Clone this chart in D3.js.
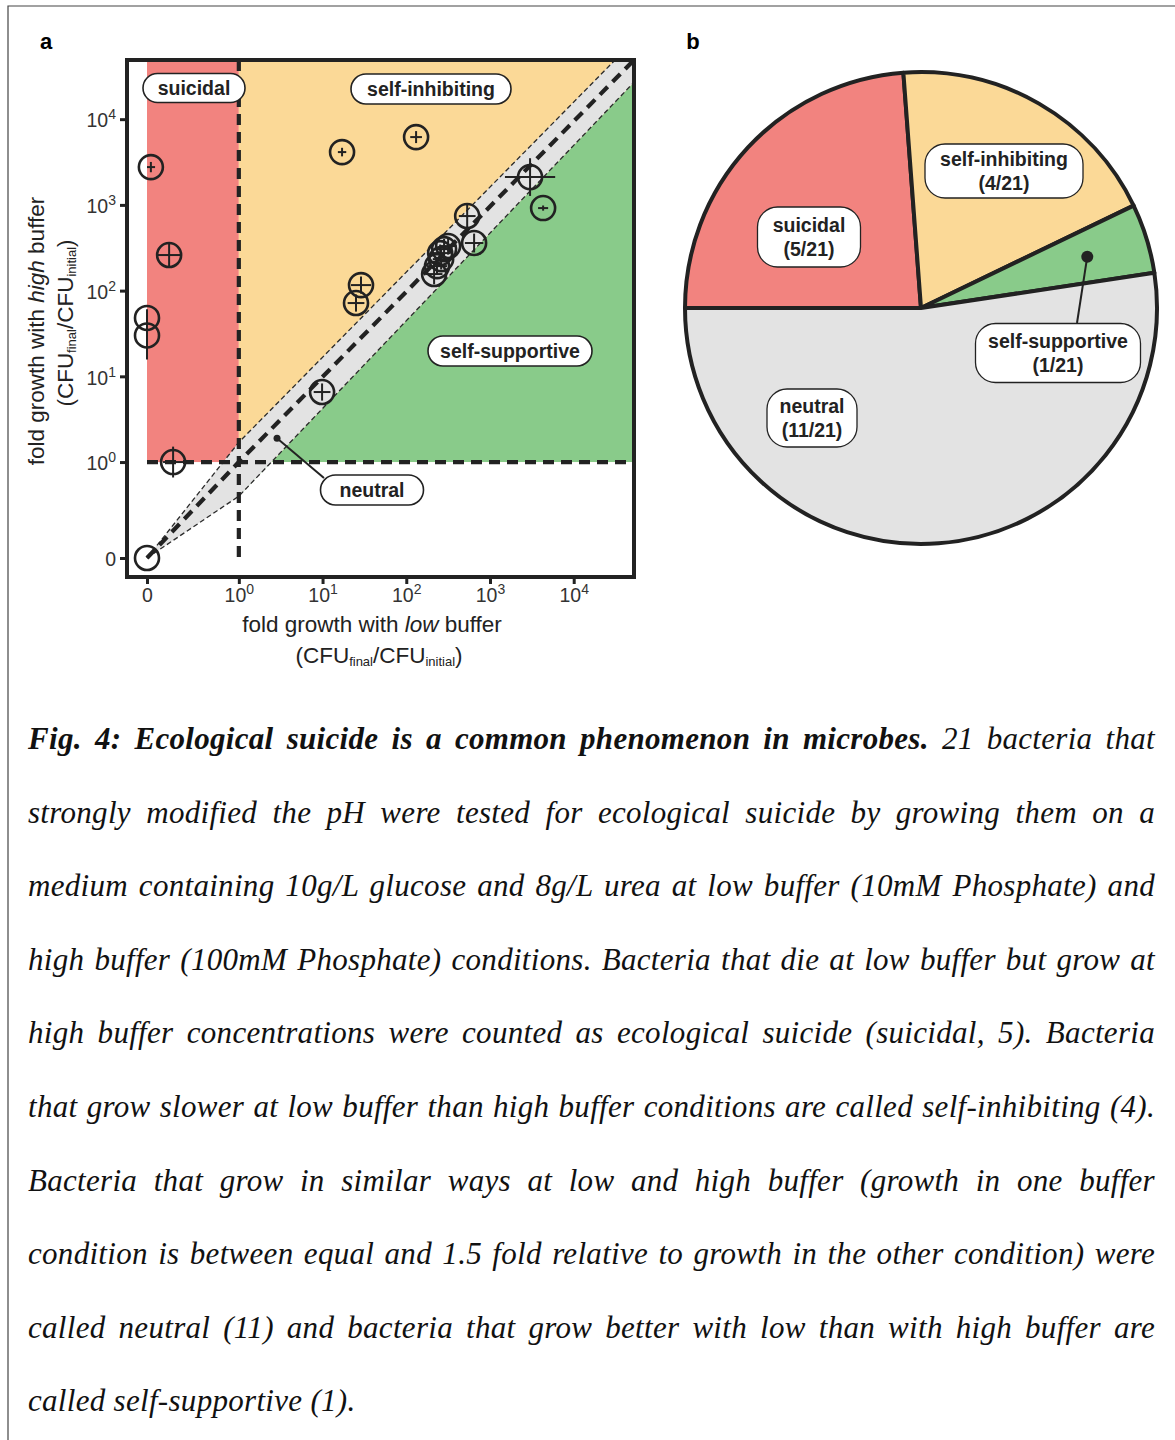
<!DOCTYPE html>
<html><head><meta charset="utf-8">
<script src="https://cdn.jsdelivr.net/npm/d3@7"></script>
<style>body{margin:0;background:#fff} svg{display:block}</style>
</head><body>
<svg id="c" width="1175" height="1440"></svg>
<script>
// ---------------- DATA ----------------
const categories = ["suicidal", "self-inhibiting", "self-supportive", "neutral"];
const counts = [5, 4, 1, 11];
const total = 21;
const catColors = ["#F2837F", "#FBD997", "#89CB8A", "#E3E3E3"];

// scatter: fold growth with low buffer (x) and high buffer (y)
const pointCategory = ["suicidal","suicidal","suicidal","suicidal","suicidal",
  "self-inhibiting","self-inhibiting","self-inhibiting","self-inhibiting",
  "self-supportive",
  "neutral","neutral","neutral","neutral","neutral","neutral","neutral","neutral","neutral","neutral","neutral"];
const lowBuffer  = [0.089, 0.147, 0, 0, 0.164, 17.1, 131, 28.8, 25.1, 4310, 0, 9.87, 3010, 534, 646, 316, 283, 254, 261, 233, 215];
const highBuffer = [2760, 260, 48, 30, 1.0, 4130, 6180, 116, 71.6, 918, 0, 6.56, 2110, 741, 359, 331, 305, 274, 233, 193, 156];
// error bars, in decades (log10 units)
const lowErr  = [0.05, 0.14, 0, 0, 0.12, 0.05, 0.07, 0.12, 0.10, 0.06, 0, 0.10, 0.30, 0.10, 0.11, 0.10, 0.10, 0.12, 0.10, 0.12, 0.10];
const highErr = [0.06, 0.14, 0.10, 0.28, 0.18, 0.05, 0.07, 0.10, 0.10, 0.03, 0, 0.10, 0.22, 0.15, 0.11, 0.10, 0.12, 0.10, 0.12, 0.10, 0.12];

const xTicks = [0, 1, 10, 100, 1000, 10000];
const yTicks = [0, 1, 10, 100, 1000, 10000];
const xDomain = [0.08, 52500];
const yDomain = [0.076, 49000];
// neutral band boundaries (data space)
const neutralUpper = [[0, 0], [1, 1.7], [31200, 49000]];
const neutralLower = [[0, 0], [1, 0.4], [52500, 27000]];
const neutralMarker = [2.86, 1.9];

const captionBold = "Fig. 4: Ecological suicide is a common phenomenon in microbes.";
const captionLines = [
  " 21 bacteria that",
  "strongly modified the pH were tested for ecological suicide by growing them on a",
  "medium containing 10g/L glucose and 8g/L urea at low buffer (10mM Phosphate) and",
  "high buffer (100mM Phosphate) conditions. Bacteria that die at low buffer but grow at",
  "high buffer concentrations were counted as ecological suicide (suicidal, 5). Bacteria",
  "that grow slower at low buffer than high buffer conditions are called self-inhibiting (4).",
  "Bacteria that grow in similar ways at low and high buffer (growth in one buffer",
  "condition is between equal and 1.5 fold relative to growth in the other condition) were",
  "called neutral (11) and bacteria that grow better with low than with high buffer are",
  "called self-supportive (1)."
];

// ---------------- DRAW ----------------
const svg = d3.select("#c");
const SANS = "'Liberation Sans', Arial, sans-serif";
const INK = "#222";

// page frame
svg.append("path").attr("d", "M8,1440 V6 H1175").attr("fill", "none").attr("stroke", "#444").attr("stroke-width", 1.2);

// panel letters
svg.append("text").attr("x", 46).attr("y", 49).attr("text-anchor", "middle")
  .attr("font-family", SANS).attr("font-weight", "bold").attr("font-size", 22).text("a");
svg.append("text").attr("x", 693).attr("y", 49).attr("text-anchor", "middle")
  .attr("font-family", SANS).attr("font-weight", "bold").attr("font-size", 22).text("b");

const L = 127, R = 634, T = 60, B = 577;
const x = d3.scaleLog().domain(xDomain).range([147, R]).clamp(true);
const y = d3.scaleLog().domain(yDomain).range([558, T]).clamp(true);
const col = c => catColors[categories.indexOf(c)];

svg.append("defs").append("clipPath").attr("id", "plotclip")
  .append("rect").attr("x", L).attr("y", T).attr("width", R - L).attr("height", B - T);
const plot = svg.append("g").attr("clip-path", "url(#plotclip)");
const xMax = xDomain[1], yMax = yDomain[1];
const line = d3.line().x(d => x(d[0])).y(d => y(d[1]));

// regions
plot.append("rect").attr("x", x(0)).attr("y", y(yMax)).attr("width", x(1) - x(0)).attr("height", y(1) - y(yMax))
  .attr("fill", col("suicidal"));
plot.append("rect").attr("x", x(1)).attr("y", y(yMax)).attr("width", x(xMax) - x(1)).attr("height", y(1) - y(yMax))
  .attr("fill", col("self-inhibiting"));
plot.append("path").attr("d", line([neutralLower[1], neutralLower[2], [xMax, 1], [1, 1]]) + "Z")
  .attr("fill", col("self-supportive"));
const band = neutralUpper.concat([[xMax, yMax]], neutralLower.slice().reverse());
plot.append("path").attr("d", line(band) + "Z").attr("fill", col("neutral"));

// band boundaries
[neutralUpper, neutralLower].forEach(b => {
  plot.append("path").attr("d", line(b)).attr("fill", "none").attr("stroke", "#2a2a2a")
    .attr("stroke-width", 1.3).attr("stroke-dasharray", "5,3");
});
// thick dashed lines
const thick = (pts) => plot.append("path").attr("d", line(pts)).attr("fill", "none")
  .attr("stroke", INK).attr("stroke-width", 4.2).attr("stroke-dasharray", "11,7");
thick([[1, yMax], [1, 0]]);
thick([[0, 1], [xMax, 1]]);
thick([[0, 0], [1, 1], [xMax, yMax]]);

// neutral marker + leader
plot.append("line").attr("x1", x(neutralMarker[0])).attr("y1", y(neutralMarker[1]))
  .attr("x2", 324).attr("y2", 478).attr("stroke", INK).attr("stroke-width", 2);
plot.append("circle").attr("cx", x(neutralMarker[0])).attr("cy", y(neutralMarker[1])).attr("r", 3.5).attr("fill", INK);

// points
const pts = lowBuffer.map((v, i) => ({x: v, y: highBuffer[i], ex: lowErr[i], ey: highErr[i], c: pointCategory[i]}));
const pg = plot.append("g");
pts.forEach(p => {
  const cx = x(p.x), cy = y(p.y);
  if (p.ex > 0) pg.append("line").attr("x1", x(p.x / Math.pow(10, p.ex))).attr("x2", x(p.x * Math.pow(10, p.ex)))
    .attr("y1", cy).attr("y2", cy).attr("stroke", INK).attr("stroke-width", 2);
  if (p.ey > 0) pg.append("line").attr("y1", y(p.y / Math.pow(10, p.ey))).attr("y2", y(p.y * Math.pow(10, p.ey)))
    .attr("x1", cx).attr("x2", cx).attr("stroke", INK).attr("stroke-width", 2);
  pg.append("circle").attr("cx", cx).attr("cy", cy).attr("r", 12).attr("fill", "none")
    .attr("stroke", INK).attr("stroke-width", 2.6);
});

// pill helper
function pill(g, cx, cy, w, h, lines, sw, rx) {
  g.append("rect").attr("x", cx - w / 2).attr("y", cy - h / 2).attr("width", w).attr("height", h)
    .attr("rx", rx).attr("ry", rx).attr("fill", "#fff").attr("stroke", INK).attr("stroke-width", sw);
  const lh = 24;
  lines.forEach((t, i) => {
    g.append("text").attr("x", cx).attr("y", cy + (i - (lines.length - 1) / 2) * lh + 7)
      .attr("text-anchor", "middle").attr("font-family", SANS).attr("font-weight", "bold")
      .attr("font-size", 19.5).attr("fill", INK).text(t);
  });
}
const lab = svg.append("g");
pill(lab, 194, 88, 102, 29, [categories[0]], 1.6, 14.5);
pill(lab, 431, 89, 160, 30, [categories[1]], 1.6, 15);
pill(lab, 510, 351, 164, 30, [categories[2]], 1.6, 15);
pill(lab, 372, 490, 103, 30, [categories[3]], 1.6, 15);

// frame
svg.append("rect").attr("x", L).attr("y", T).attr("width", R - L).attr("height", B - T)
  .attr("fill", "none").attr("stroke", INK).attr("stroke-width", 4);

// axes
function fmtTicks(sel) {
  sel.selectAll(".tick text").each(function (d) {
    const t = d3.select(this).text("");
    if (d === 0) { t.text("0"); return; }
    t.append("tspan").text("10");
    t.append("tspan").attr("dy", -8).attr("font-size", 14).text(Math.round(Math.log10(d)));
  });
}
const xa = svg.append("g").attr("transform", `translate(0,${B + 2})`)
  .call(d3.axisBottom(x).tickValues(xTicks).tickSize(5).tickPadding(4).tickFormat(d => d));
xa.select(".domain").remove();
xa.selectAll(".tick line").attr("stroke", INK).attr("stroke-width", 3);
xa.selectAll(".tick text").attr("font-family", SANS).attr("font-size", 19.5).attr("fill", "#333");
fmtTicks(xa);
const ya = svg.append("g").attr("transform", `translate(${L - 2},0)`)
  .call(d3.axisLeft(y).tickValues(yTicks).tickSize(5).tickPadding(4).tickFormat(d => d));
ya.select(".domain").remove();
ya.selectAll(".tick line").attr("stroke", INK).attr("stroke-width", 3);
ya.selectAll(".tick text").attr("font-family", SANS).attr("font-size", 19.5).attr("fill", "#333").attr("dy", "0.4em");
fmtTicks(ya);

// axis titles
function cfu(t) {
  t.append("tspan").text("(CFU");
  t.append("tspan").attr("font-size", 13).attr("dy", 3).text("final");
  t.append("tspan").attr("dy", -3).text("/CFU");
  t.append("tspan").attr("font-size", 13).attr("dy", 3).text("initial");
  t.append("tspan").attr("dy", -3).text(")");
}
const TS = 22.5;
const xt1 = svg.append("text").attr("x", 372).attr("y", 632).attr("text-anchor", "middle")
  .attr("font-family", SANS).attr("font-size", TS).attr("fill", INK);
xt1.append("tspan").text("fold growth with ");
xt1.append("tspan").attr("font-style", "italic").text("low");
xt1.append("tspan").text(" buffer");
const xt2 = svg.append("text").attr("x", 379).attr("y", 663).attr("text-anchor", "middle")
  .attr("font-family", SANS).attr("font-size", TS).attr("fill", INK);
cfu(xt2);
const yt = svg.append("g").attr("transform", "translate(44,331) rotate(-90)");
const yt1 = yt.append("text").attr("x", 0).attr("y", 0).attr("text-anchor", "middle")
  .attr("font-family", SANS).attr("font-size", TS).attr("fill", INK);
yt1.append("tspan").text("fold growth with ");
yt1.append("tspan").attr("font-style", "italic").text("high");
yt1.append("tspan").text(" buffer");
const yt2 = yt.append("text").attr("x", 8).attr("y", 29).attr("text-anchor", "middle")
  .attr("font-family", SANS).attr("font-size", TS).attr("fill", INK);
cfu(yt2);

// ---------------- PIE ----------------
const pcx = 921, pcy = 308, pr = 236;
const pie = d3.pie().sort(null).startAngle(-Math.PI / 2).endAngle(1.5 * Math.PI)(counts);
const arc = d3.arc().innerRadius(0).outerRadius(pr);
const pieG = svg.append("g").attr("transform", `translate(${pcx},${pcy})`);
pieG.selectAll("path").data(pie).join("path").attr("d", arc)
  .attr("fill", (d, i) => catColors[i]).attr("stroke", INK).attr("stroke-width", 4).attr("stroke-linejoin", "round");

// marker on the thin slice
const dotArc = d3.arc().innerRadius(174).outerRadius(174);
const dp = dotArc.centroid(pie[2]);
pieG.append("line").attr("x1", dp[0]).attr("y1", dp[1]).attr("x2", 1077 - pcx).attr("y2", 323 - pcy)
  .attr("stroke", INK).attr("stroke-width", 2);
pieG.append("circle").attr("cx", dp[0]).attr("cy", dp[1]).attr("r", 6).attr("fill", INK);

const pieLabelPos = [[809 - pcx, 237 - pcy, 103, 60], [1004 - pcx, 171 - pcy, 158, 54], [1058 - pcx, 353 - pcy, 165, 59], [812 - pcx, 418 - pcy, 90, 58]];
categories.forEach((c, i) => {
  const p = pieLabelPos[i];
  pill(pieG, p[0], p[1], p[2], p[3], [c, `(${counts[i]}/${total})`], 1.3, 20);
});

// ---------------- CAPTION ----------------
const SERIF = "'Liberation Serif', 'Times New Roman', serif";
const capL = 28, capR = 1155;
captionLines.forEach((ln, i) => {
  const t = svg.append("text").attr("x", capL).attr("y", 749 + i * 73.6)
    .attr("font-family", SERIF).attr("font-size", 31).attr("letter-spacing", 0.3)
    .attr("font-style", "italic").attr("fill", "#111")
    .attr("xml:space", "preserve");
  let full = ln;
  if (i === 0) {
    t.append("tspan").attr("font-weight", "bold").text(captionBold);
    t.append("tspan").text(ln);
    full = captionBold + ln;
  } else t.text(ln);
  if (i < captionLines.length - 1) {
    const nat = t.node().getComputedTextLength();
    const spaces = (full.match(/ /g) || []).length;
    if (spaces > 0) t.attr("word-spacing", (capR - capL - nat) / spaces);
  }
});
</script>
</body></html>
